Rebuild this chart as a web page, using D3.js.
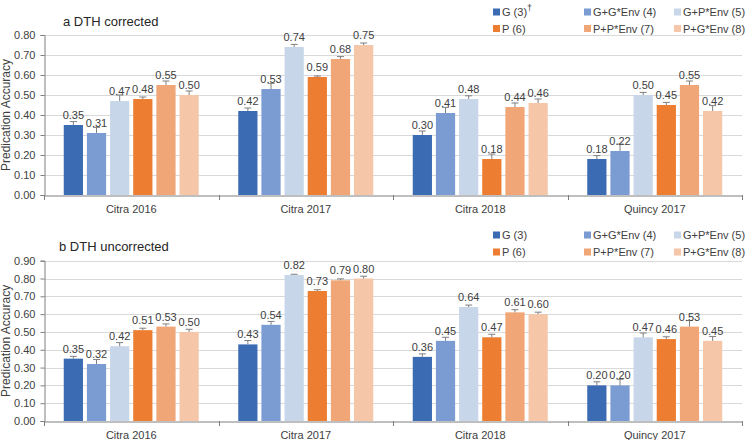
<!DOCTYPE html>
<html><head><meta charset="utf-8">
<script src="https://cdn.jsdelivr.net/npm/d3@7"></script>
<style>body{margin:0;background:#fff}svg{display:block;font-family:"Liberation Sans",Arial,sans-serif}</style>
</head><body><svg id="c" width="748" height="440"></svg>
<script>
const categories = ["Citra 2016","Citra 2017","Citra 2018","Quincy 2017"];
const seriesNames = ["G (3)","G+G*Env (4)","G+P*Env (5)","P (6)","P+P*Env (7)","P+G*Env (8)"];
const seriesColors = ["#3b6bb3","#7b9cd3","#c8d6ea","#ed7d31","#f0a677","#f5c6a7"];
// values per series, across categories
const correctedValues = [
  [0.35,0.42,0.30,0.18],
  [0.31,0.53,0.41,0.22],
  [0.47,0.74,0.48,0.50],
  [0.48,0.59,0.18,0.45],
  [0.55,0.68,0.44,0.55],
  [0.50,0.75,0.46,0.42]
];
const correctedErrors = [
  [0.017,0.015,0.02,0.017],
  [0.028,0.028,0.028,0.035],
  [0.03,0.013,0.016,0.013],
  [0.01,0.005,0.025,0.013],
  [0.02,0.012,0.02,0.02],
  [0.02,0.01,0.02,0.027]
];
const uncorrectedValues = [
  [0.35,0.43,0.36,0.20],
  [0.32,0.54,0.45,0.20],
  [0.42,0.82,0.64,0.47],
  [0.51,0.73,0.47,0.46],
  [0.53,0.79,0.61,0.53],
  [0.50,0.80,0.60,0.45]
];
const uncorrectedErrors = [
  [0.013,0.022,0.017,0.02],
  [0.025,0.019,0.02,0.034],
  [0.02,0.004,0.011,0.024],
  [0.011,0.007,0.017,0.013],
  [0.015,0.008,0.015,0.034],
  [0.015,0.013,0.011,0.024]
];
const topTicks = [0,0.1,0.2,0.3,0.4,0.5,0.6,0.7,0.8];
const bottomTicks = [0,0.1,0.2,0.3,0.4,0.5,0.6,0.7,0.8,0.9];

const svg = d3.select("#c");
const fmt = d3.format(".2f");

const x0 = d3.scaleBand().domain(categories).range([44,742]).padding(0);
const x1 = d3.scaleBand().domain(seriesNames).range([19.75,154.75]).paddingInner(0.17).paddingOuter(0);

function panel(opt){
  const y = d3.scaleLinear().domain([0, opt.max]).range([opt.y0, opt.y1]);
  const g = svg.append("g");
  // gridlines
  g.append("g").selectAll("line").data(opt.ticks.slice(1)).join("line")
    .attr("x1",44).attr("x2",742).attr("y1",d=>Math.round(y(d))+0.5).attr("y2",d=>Math.round(y(d))+0.5)
    .attr("stroke","#d9d9d9").attr("stroke-width",1);
  // y axis
  const ya = g.append("g").attr("transform","translate(44.5,0)")
    .call(d3.axisLeft(y).tickValues(opt.ticks).tickFormat(fmt).tickSize(4).tickPadding(5));
  ya.select(".domain").attr("stroke","#7f7f7f");
  ya.selectAll(".tick line").attr("stroke","#7f7f7f");
  ya.selectAll("text").attr("fill","#404040").style("font-size","11px").style("font-family","Liberation Sans, Arial, sans-serif");
  // x axis
  const xa = g.append("g").attr("transform",`translate(0,${Math.round(opt.y0)+0.5})`)
    .call(d3.axisBottom(x0).tickSize(0).tickPadding(10));
  xa.select(".domain").attr("stroke","#7f7f7f");
  xa.selectAll("text").attr("fill","#404040").style("font-size","11px").style("font-family","Liberation Sans, Arial, sans-serif");
  // boundary ticks
  const bounds = categories.map(c=>x0(c)).concat([x0.range()[1]]);
  g.append("g").selectAll("line").data(bounds).join("line")
    .attr("x1",d=>Math.round(d)+0.5).attr("x2",d=>Math.round(d)+0.5)
    .attr("y1",Math.round(opt.y0)).attr("y2",Math.round(opt.y0)+5)
    .attr("stroke","#7f7f7f");
  // bars
  const data = [];
  seriesNames.forEach((s,si)=>categories.forEach((c,ci)=>{
    data.push({s,si,c,v:opt.values[si][ci],e:opt.errors[si][ci]});
  }));
  const bx = d=>x0(d.c)+x1(d.s);
  g.append("g").selectAll("rect").data(data).join("rect")
    .attr("x",bx).attr("width",x1.bandwidth())
    .attr("y",d=>y(d.v)).attr("height",d=>y(0)-y(d.v))
    .attr("fill",d=>seriesColors[d.si]);
  // error bars
  const eb = g.append("g").attr("stroke","#7f7f7f").attr("stroke-width",1);
  eb.selectAll("line.v").data(data).join("line").attr("class","v")
    .attr("x1",d=>bx(d)+x1.bandwidth()/2).attr("x2",d=>bx(d)+x1.bandwidth()/2)
    .attr("y1",d=>y(d.v)).attr("y2",d=>y(d.v+d.e));
  eb.selectAll("line.c").data(data).join("line").attr("class","c")
    .attr("x1",d=>bx(d)+x1.bandwidth()/2-3.5).attr("x2",d=>bx(d)+x1.bandwidth()/2+3.5)
    .attr("y1",d=>y(d.v+d.e)).attr("y2",d=>y(d.v+d.e));
  // value labels
  g.append("g").selectAll("text").data(data).join("text")
    .attr("x",d=>bx(d)+x1.bandwidth()/2).attr("y",d=>y(d.v)-6)
    .attr("text-anchor","middle").attr("fill","#404040").style("font-size","11px")
    .text(d=>fmt(d.v));
  // title
  g.append("text").attr("x",opt.titleX).attr("y",opt.titleY).attr("fill","#262626")
    .style("font-size","13px").text(opt.title);
  // y label
  g.append("text").attr("transform",`translate(10,${(opt.y0+opt.y1)/2}) rotate(-90)`)
    .attr("text-anchor","middle").attr("fill","#404040").style("font-size","12px")
    .text("Predication Accuracy");
  // legend
  const lx = [493,584,674];
  const leg = g.append("g");
  seriesNames.forEach((s,i)=>{
    const col = i%3, row = Math.floor(i/3);
    const cx = lx[col], cy = opt.legY + row*opt.legDy;
    leg.append("rect").attr("x",cx).attr("y",cy-3.5).attr("width",7).attr("height",7).attr("fill",seriesColors[i]);
    const t = leg.append("text").attr("x",cx+9).attr("y",cy+4).attr("fill","#404040").style("font-size","11px").text(s);
    if(i===0 && opt.dagger){
      t.append("tspan").attr("dy",-5).style("font-size","9px").text("\u2020");
    }
  });
}

panel({max:0.8, ticks:topTicks, y0:195, y1:35, values:correctedValues, errors:correctedErrors,
  title:"a DTH corrected", titleX:63, titleY:26, legY:12, legDy:16.5, dagger:true});
panel({max:0.9, ticks:bottomTicks, y0:421, y1:260.7, values:uncorrectedValues, errors:uncorrectedErrors,
  title:"b DTH uncorrected", titleX:59, titleY:251, legY:235, legDy:17, dagger:false});
</script></body></html>
